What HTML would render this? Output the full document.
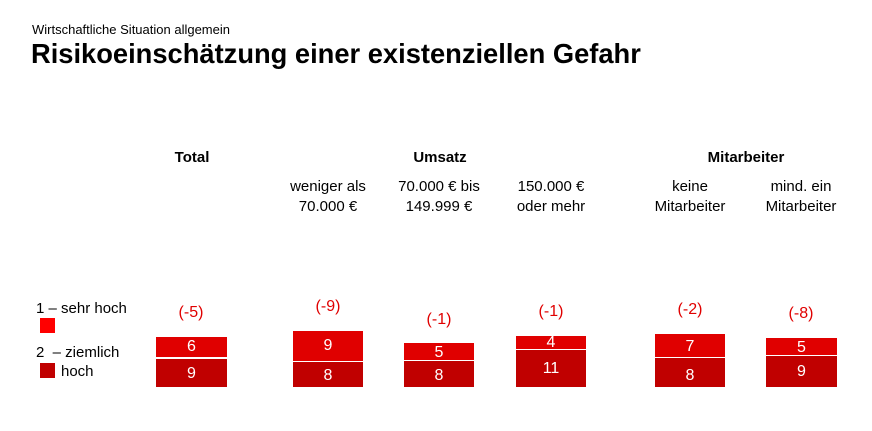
<!DOCTYPE html>
<html><head><meta charset="utf-8"><style>
body{margin:0;width:872px;height:431px;background:#fff;font-family:"Liberation Sans",Arial,sans-serif;position:relative;overflow:hidden}
div{position:absolute}
.t{font-size:15px;color:#000;text-align:center;line-height:20px}
.h{font-weight:bold;font-size:15px;text-align:center}
.d{color:#e00000;font-size:16px;text-align:center;width:80px}
.a{background:#e00000;color:#fff;font-size:16px;text-align:center}
.b{background:#c00000;color:#fff;font-size:16px;text-align:center}
</style></head><body>
<div style="left:32px;top:22px;font-size:13px">Wirtschaftliche Situation allgemein</div>
<div style="left:31px;top:38px;font-size:27.3px;font-weight:bold">Risikoeinschätzung einer existenziellen Gefahr</div>
<div class="h" style="left:152px;top:149px;width:80px">Total</div>
<div class="h" style="left:380px;top:149px;width:120px">Umsatz</div>
<div class="h" style="left:686px;top:149px;width:120px">Mitarbeiter</div>
<div class="t" style="left:278px;top:177px;width:100px">weniger als<br>70.000 €</div>
<div class="t" style="left:389px;top:177px;width:100px">70.000 € bis<br>149.999 €</div>
<div class="t" style="left:501px;top:177px;width:100px">150.000 €<br>oder mehr</div>
<div class="t" style="left:640px;top:177px;width:100px">keine<br>Mitarbeiter</div>
<div class="t" style="left:751px;top:177px;width:100px">mind. ein<br>Mitarbeiter</div>
<div style="left:36px;top:300px;font-size:15px">1 – sehr hoch</div>
<div style="left:40px;top:318px;width:15px;height:15px;background:#ff0000"></div>
<div style="left:36px;top:344px;font-size:15px">2&nbsp; – ziemlich</div>
<div style="left:40px;top:363px;width:15px;height:15px;background:#c00000"></div>
<div style="left:61px;top:363px;font-size:15px">hoch</div>

<div class="d" style="left:151px;top:304px">(-5)</div>
<div class="a" style="left:156px;top:337px;width:71px;height:20px;line-height:20px">6</div>
<div class="b" style="left:156px;top:359px;width:71px;height:28px;line-height:30px">9</div>

<div class="d" style="left:288px;top:298px">(-9)</div>
<div class="a" style="left:293px;top:331px;width:70px;height:30px;line-height:30px">9</div>
<div class="b" style="left:293px;top:362px;width:70px;height:25px;line-height:27px">8</div>

<div class="d" style="left:399px;top:311px">(-1)</div>
<div class="a" style="left:404px;top:343px;width:70px;height:17px;line-height:20px">5</div>
<div class="b" style="left:404px;top:361px;width:70px;height:26px;line-height:29px">8</div>

<div class="d" style="left:511px;top:303px">(-1)</div>
<div class="a" style="left:516px;top:336px;width:70px;height:13px;line-height:14px">4</div>
<div class="b" style="left:516px;top:350px;width:70px;height:37px;line-height:37px">11</div>

<div class="d" style="left:650px;top:301px">(-2)</div>
<div class="a" style="left:655px;top:334px;width:70px;height:23px;line-height:25px">7</div>
<div class="b" style="left:655px;top:358px;width:70px;height:29px;line-height:35px">8</div>

<div class="d" style="left:761px;top:305px">(-8)</div>
<div class="a" style="left:766px;top:338px;width:71px;height:17px;line-height:20px">5</div>
<div class="b" style="left:766px;top:356px;width:71px;height:31px;line-height:31px">9</div>
</body></html>
